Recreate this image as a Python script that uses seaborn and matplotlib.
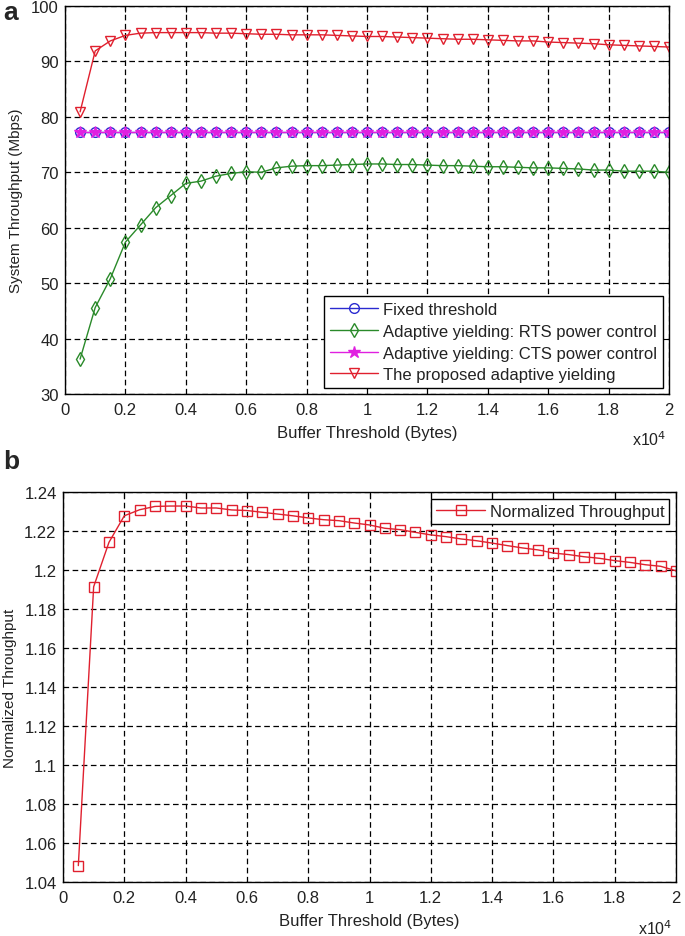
import numpy as np
import pandas as pd
import matplotlib
matplotlib.use("Agg")
import matplotlib.pyplot as plt
import seaborn as sns
from matplotlib.ticker import FuncFormatter, MultipleLocator

# ---- data ----
buffer_x = [0.05, 0.1, 0.15, 0.2, 0.25, 0.3, 0.35, 0.4, 0.45, 0.5,
            0.55, 0.6, 0.65, 0.7, 0.75, 0.8, 0.85, 0.9, 0.95, 1.0,
            1.05, 1.1, 1.15, 1.2, 1.25, 1.3, 1.35, 1.4, 1.45, 1.5,
            1.55, 1.6, 1.65, 1.7, 1.75, 1.8, 1.85, 1.9, 1.95, 2.0]

fixed_threshold = [77.2] * 40
cts_power = [77.2] * 40
rts_power = [36.3, 45.6, 50.8, 57.4, 60.5, 63.6, 65.8, 68.0, 68.4, 69.3,
             69.8, 70.1, 70.0, 70.8, 71.1, 71.2, 71.2, 71.3, 71.4, 71.5,
             71.5, 71.4, 71.4, 71.3, 71.2, 71.2, 71.1, 71.0, 71.0, 70.9,
             70.8, 70.8, 70.7, 70.6, 70.4, 70.4, 70.2, 70.2, 70.2, 70.0]
proposed = [80.9, 91.9, 93.7, 94.7, 95.1, 95.2, 95.2, 95.2, 95.2, 95.1,
            95.1, 95.0, 94.9, 94.9, 94.8, 94.8, 94.8, 94.7, 94.6, 94.5,
            94.5, 94.4, 94.3, 94.2, 94.1, 94.0, 94.0, 93.9, 93.8, 93.7,
            93.7, 93.5, 93.4, 93.3, 93.2, 93.0, 92.9, 92.8, 92.7, 92.6]
normalized = [1.0484, 1.1914, 1.2142, 1.2278, 1.2309, 1.2326, 1.2328, 1.2328, 1.2318, 1.2318,
              1.2308, 1.2305, 1.2296, 1.2287, 1.2278, 1.2267, 1.2258, 1.2253, 1.2241, 1.2231,
              1.2214, 1.2207, 1.2193, 1.2180, 1.2171, 1.2159, 1.2150, 1.2138, 1.2125, 1.2113,
              1.2103, 1.2087, 1.2079, 1.2068, 1.2060, 1.2048, 1.2039, 1.2027, 1.2019, 1.1996]

labels_a = ["Fixed threshold", "Adaptive yielding: RTS power control",
            "Adaptive yielding: CTS power control", "The proposed adaptive yielding"]
label_b = "Normalized Throughput"

# ---- style ----
sns.set_theme(style="white")
plt.rcParams['font.family'] = ['Liberation Sans', 'DejaVu Sans']
plt.rcParams['xtick.direction'] = 'in'
plt.rcParams['ytick.direction'] = 'in'

W, H = 685, 937
fig = plt.figure(figsize=(W / 100, H / 100), dpi=100)
ax_a = fig.add_axes([65 / W, 1 - 395 / H, 604 / W, 388 / H])
ax_b = fig.add_axes([63 / W, 1 - 883 / H, 613 / W, 390 / H])

c_blue = '#2a2ad0'
c_green = '#2a8a2a'
c_mag = '#e020e0'
c_red = '#e0202e'
txt = '#222222'

df_a = pd.DataFrame({"x": buffer_x, "fixed": fixed_threshold, "rts": rts_power,
                     "cts": cts_power, "prop": proposed})
df_b = pd.DataFrame({"x": buffer_x, "norm": normalized})

lw = 1.0
sns.lineplot(data=df_a, x="x", y="fixed", ax=ax_a, color=c_blue, lw=lw, marker='o',
             markersize=7, markerfacecolor='none', markeredgecolor=c_blue, markeredgewidth=1.0,
             label=labels_a[0])
sns.lineplot(data=df_a, x="x", y="rts", ax=ax_a, color=c_green, lw=lw, marker='d',
             markersize=7, markerfacecolor='none', markeredgecolor=c_green, markeredgewidth=1.0,
             label=labels_a[1])
sns.lineplot(data=df_a, x="x", y="cts", ax=ax_a, color=c_mag, lw=lw, marker='*',
             markersize=9, markerfacecolor=c_mag, markeredgecolor=c_mag, markeredgewidth=1.0,
             label=labels_a[2])
sns.lineplot(data=df_a, x="x", y="prop", ax=ax_a, color=c_red, lw=lw, marker='v',
             markersize=7, markerfacecolor='none', markeredgecolor=c_red, markeredgewidth=1.0,
             label=labels_a[3])

sns.lineplot(data=df_b, x="x", y="norm", ax=ax_b, color=c_red, lw=lw, marker='s',
             markersize=7, markerfacecolor='none', markeredgecolor=c_red, markeredgewidth=1.0,
             label=label_b)

fmt = FuncFormatter(lambda v, p: ('%g' % round(v, 4)))

for ax in (ax_a, ax_b):
    ax.set_xlim(0, 2)
    ax.xaxis.set_major_locator(MultipleLocator(0.2))
    ax.xaxis.set_major_formatter(fmt)
    ax.yaxis.set_major_formatter(fmt)
    ax.grid(True, color='black', linestyle=(0, (4.5, 2.8)), linewidth=0.9)
    for s in ax.spines.values():
        s.set_color('black')
        s.set_linewidth(1.0)
    ax.tick_params(axis='both', which='major', labelsize=12, length=4, width=0.8,
                   color='black', labelcolor=txt, top=True, right=True)
    ax.tick_params(axis='x', pad=6)
    ax.tick_params(axis='y', pad=4.5)
    ax.set_xlabel("Buffer Threshold (Bytes)", fontsize=12, color=txt, labelpad=5.5)

ax_a.set_ylim(30, 100)
ax_a.yaxis.set_major_locator(MultipleLocator(10))
ax_a.set_ylabel("System Throughput (Mbps)", fontsize=11, color=txt, labelpad=6)

ax_b.set_ylim(1.04, 1.24)
ax_b.yaxis.set_major_locator(MultipleLocator(0.02))
ax_b.set_ylabel("Normalized Throughput", fontsize=11, color=txt, labelpad=5)

leg_a = ax_a.legend(loc='lower right', fontsize=12, frameon=True, fancybox=False,
                    edgecolor='black', framealpha=1, borderpad=0.35, labelspacing=0.4,
                    handlelength=2.9, handletextpad=0.3, borderaxespad=0.35)
leg_a.get_frame().set_linewidth(1.0)
for t in leg_a.get_texts():
    t.set_color(txt)
leg_b = ax_b.legend(loc='upper right', fontsize=12, frameon=True, fancybox=False,
                    edgecolor='black', framealpha=1, borderpad=0.3,
                    handlelength=2.9, handletextpad=0.3, borderaxespad=0.4)
leg_b.get_frame().set_linewidth(1.0)
for t in leg_b.get_texts():
    t.set_color(txt)

# panel letters and exponent labels
fig.text(3 / W, 1 - 13 / H, 'a', fontsize=19, fontweight='bold', va='center', ha='left')
fig.text(3 / W, 1 - 462 / H, 'b', fontsize=19, fontweight='bold', va='center', ha='left')
fig.text(632 / W, 1 - 440 / H, r'x10$^{4}$', fontsize=11.5, color=txt, va='center')
fig.text(638 / W, 1 - 929 / H, r'x10$^{4}$', fontsize=11.5, color=txt, va='center')

fig.savefig("out.png", dpi=100, facecolor='white')
